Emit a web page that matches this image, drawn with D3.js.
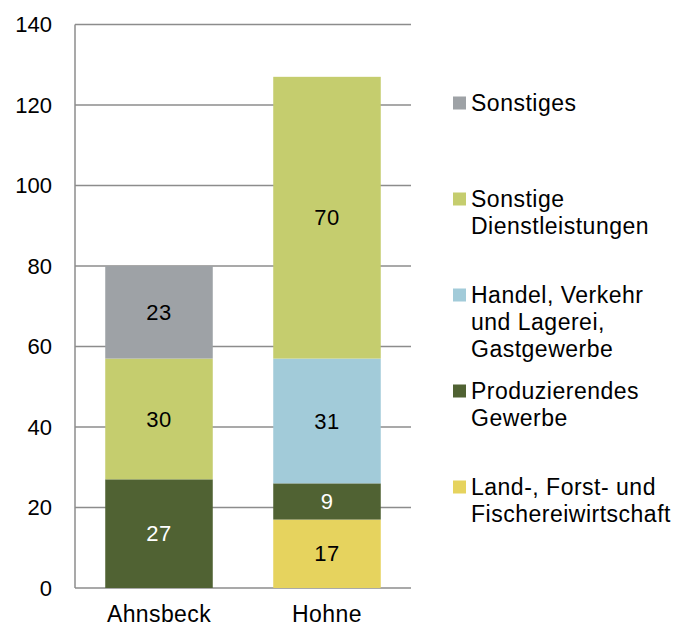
<!DOCTYPE html>
<html>
<head>
<script src="https://d3js.org/d3.v7.min.js"></script>
<style>
  body { margin: 0; background: #fff; }
  text { font-family: "Liberation Sans", Arial, sans-serif; }
</style>
</head>
<body>
<script>
var categories = ['Ahnsbeck', 'Hohne'];
var seriesNames = ['Land-, Forst- und Fischereiwirtschaft', 'Produzierendes Gewerbe',
    'Handel, Verkehr und Lagerei, Gastgewerbe', 'Sonstige Dienstleistungen', 'Sonstiges'];
var land = [0, 17];
var produz = [27, 9];
var handel = [0, 31];
var dienst = [30, 70];
var sonstiges = [23, 0];
var yTicks = [0, 20, 40, 60, 80, 100, 120, 140];
var legendLines = [
    ['Sonstiges'],
    ['Sonstige', 'Dienstleistungen'],
    ['Handel, Verkehr', 'und Lagerei,', 'Gastgewerbe'],
    ['Produzierendes', 'Gewerbe'],
    ['Land-, Forst- und', 'Fischereiwirtschaft']
];
var colors = ['#E6D35E', '#506233', '#A2CBD9', '#C5CD6E', '#9EA2A6'];
var labelColors = ['#000', '#fff', '#000', '#000', '#000'];

var w = 687, h = 626;
var svg = d3.select('body').append('svg').attr('width', w).attr('height', h);

var x = d3.scaleBand().domain(categories).range([75, 411]).paddingInner(0.36).paddingOuter(0.18);
var y = d3.scaleLinear().domain([0, 140]).range([588, 24.5]);

// grid
svg.append('g').selectAll('line').data(yTicks).join('line')
    .attr('x1', 75).attr('x2', 411)
    .attr('y1', function(d){ return y(d) }).attr('y2', function(d){ return y(d) })
    .attr('stroke', '#8c8c8c').attr('stroke-width', 1.5);
svg.append('line').attr('x1', 75).attr('x2', 75).attr('y1', y(140)).attr('y2', y(0))
    .attr('stroke', '#8c8c8c').attr('stroke-width', 1.5);

svg.append('g').selectAll('text').data(yTicks).join('text')
    .attr('x', 52).attr('y', function(d){ return y(d) })
    .attr('dy', '0.35em').attr('text-anchor', 'end')
    .attr('font-size', 22).text(function(d){ return d });

var table = categories.map(function(c, i){
    return { cat: c, s0: land[i], s1: produz[i], s2: handel[i], s3: dienst[i], s4: sonstiges[i] };
});
var stack = d3.stack().keys(['s0', 's1', 's2', 's3', 's4']);
var layers = stack(table);

layers.forEach(function(layer, li){
    var g = svg.append('g');
    layer.forEach(function(d){
        if (d[1] - d[0] <= 0) return;
        g.append('rect')
            .attr('x', x(d.data.cat)).attr('width', x.bandwidth())
            .attr('y', y(d[1])).attr('height', y(d[0]) - y(d[1]))
            .attr('fill', colors[li]);
        g.append('text')
            .attr('x', x(d.data.cat) + x.bandwidth() / 2)
            .attr('y', (y(d[0]) + y(d[1])) / 2)
            .attr('dy', '0.35em').attr('text-anchor', 'middle')
            .attr('font-size', 22).attr('letter-spacing', 0.5).attr('fill', labelColors[li])
            .text(d[1] - d[0]);
    });
});

svg.append('g').selectAll('text').data(categories).join('text')
    .attr('x', function(d){ return x(d) + x.bandwidth() / 2 })
    .attr('y', 622).attr('text-anchor', 'middle').attr('font-size', 23)
    .attr('letter-spacing', 0.4)
    .text(function(d){ return d });

// legend
var legColors = ['#9EA2A6', '#C5CD6E', '#A2CBD9', '#506233', '#E6D35E'];
legendLines.forEach(function(lines, i){
    var cy = 103 + i * 96;
    var g = svg.append('g');
    g.append('rect').attr('x', 453).attr('y', cy - 6.5).attr('width', 13).attr('height', 13)
        .attr('fill', legColors[i]);
    lines.forEach(function(t, j){
        g.append('text').attr('x', 471).attr('y', cy + j * 27)
            .attr('dy', '0.35em').attr('font-size', 23).attr('letter-spacing', 0.5).text(t);
    });
});
</script>
</body>
</html>
